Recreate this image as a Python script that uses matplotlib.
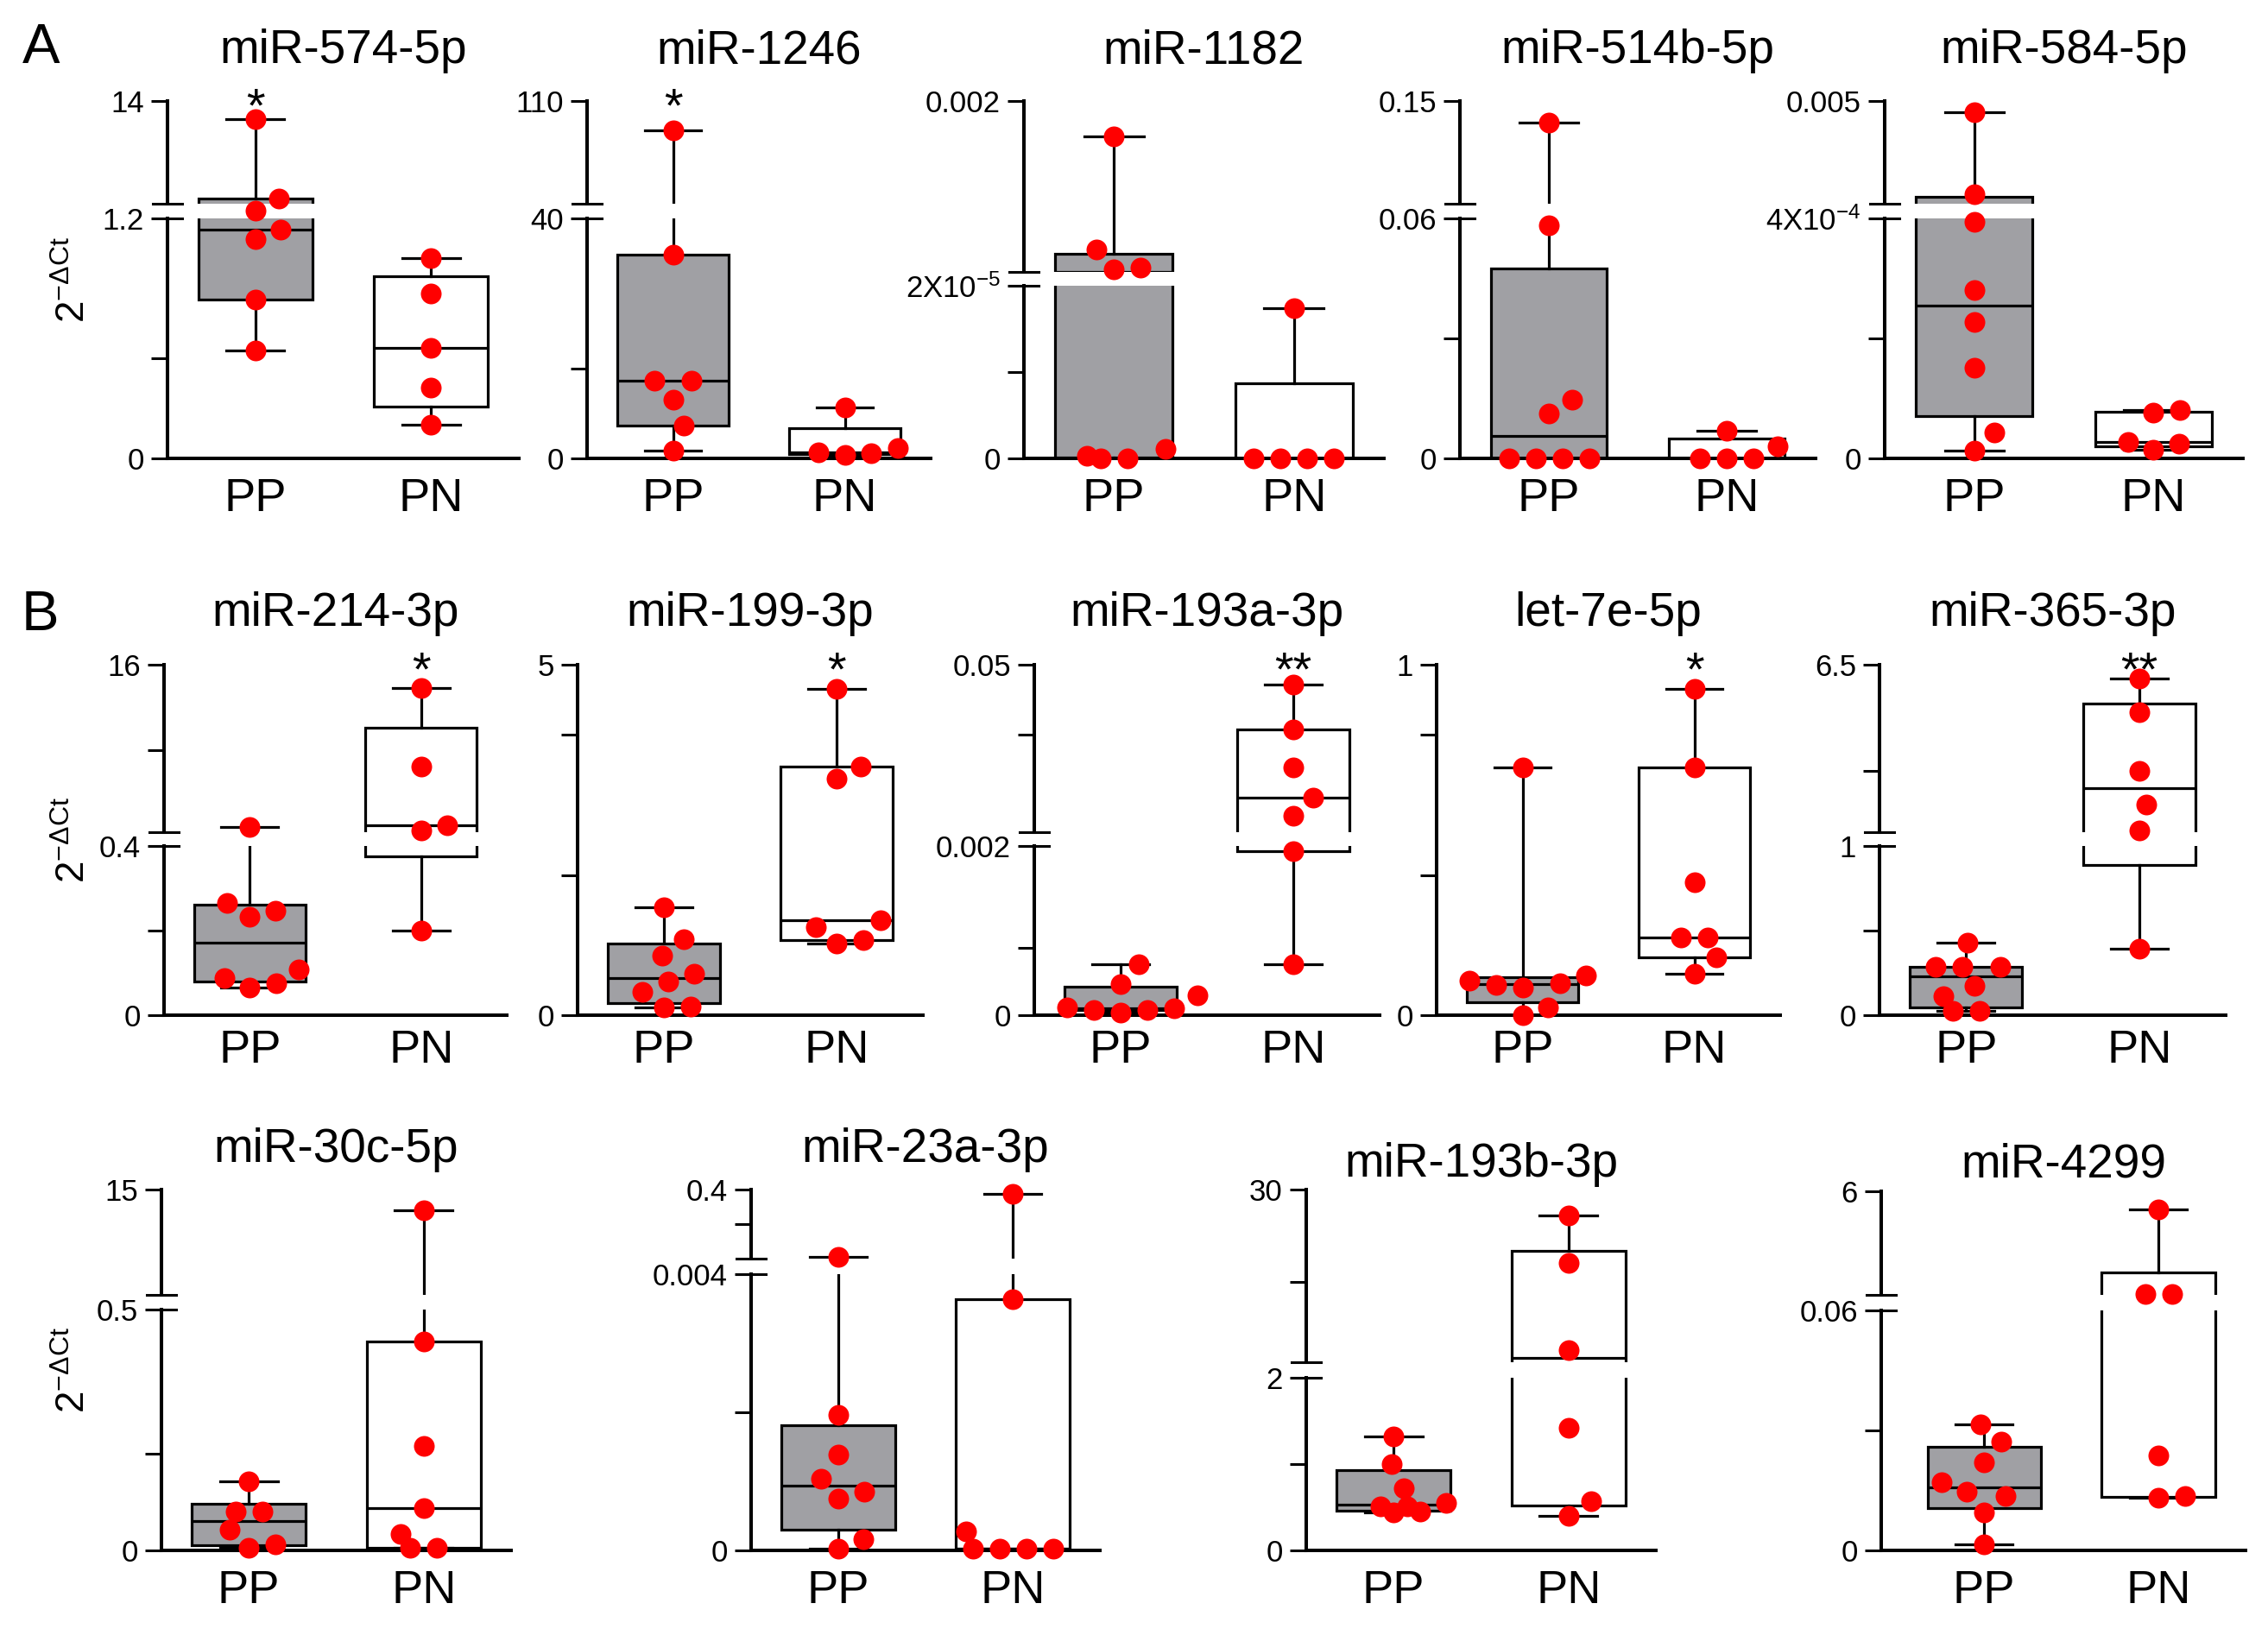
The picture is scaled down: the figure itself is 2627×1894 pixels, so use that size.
"""Box plots of miRNA expression (2^-dCt) in PP and PN groups, with broken y axes."""

import numpy as np
import matplotlib
matplotlib.use("Agg")
import matplotlib.pyplot as plt
from matplotlib.lines import Line2D
from matplotlib.patches import Rectangle

plt.rcParams["font.family"] = ["Liberation Sans", "DejaVu Sans"]
plt.rcParams["mathtext.fontset"] = "custom"
plt.rcParams["mathtext.rm"] = "Liberation Sans"
plt.rcParams["mathtext.it"] = "Liberation Sans:italic"

W, H = 2627, 1894

groups = ["PP", "PN"]

titles = [
    "miR-574-5p", "miR-1246", "miR-1182", "miR-514b-5p", "miR-584-5p",
    "miR-214-3p", "miR-199-3p", "miR-193a-3p", "let-7e-5p", "miR-365-3p",
    "miR-30c-5p", "miR-23a-3p", "miR-193b-3p", "miR-4299",
]

# --- значения 2^-dCt по группам ---
pp_574 = [11.8, 1.95, 1.25, 1.145, 1.098, 0.795, 0.538]
pn_574 = [1.0, 0.824, 0.551, 0.352, 0.167]
pp_1246 = [89.8, 34.0, 13.0, 13.0, 9.8, 5.4, 1.3]
pn_1246 = [8.5, 1.7, 1.02, 0.85, 0.57]
pp_1182 = [0.00159, 0.000283, 6.7e-5, 4.7e-5, 1.1e-6, 3e-7, 0, 0]
pn_1182 = [1.74e-5, 0, 0, 0, 0]
pp_514b = [0.1314, 0.0583, 0.0146, 0.0112, 0, 0, 0, 0]
pn_514b = [0.0068, 0.0030, 0, 0, 0]
pp_584 = [0.0045, 0.000807, 0.000394, 0.000281, 0.000228, 0.000151, 4.3e-5, 1.3e-5]
pn_584 = [8.0e-5, 7.6e-5, 2.7e-5, 2.5e-5, 1.4e-5]

pp_214 = [0.92, 0.265, 0.247, 0.232, 0.109, 0.088, 0.076, 0.065]
pn_214 = [13.85, 6.49, 1.02, 0.55, 0.2]
pp_199 = [1.535, 1.08, 0.855, 0.587, 0.484, 0.329, 0.127, 0.108]
pn_199 = [4.66, 3.545, 3.37, 1.36, 1.254, 1.066, 1.019]
pp_193a = [0.0006, 0.000367, 0.000235, 9e-5, 8e-5, 6e-5, 6e-5, 3e-5]
pn_193a = [0.0442, 0.0314, 0.0206, 0.0119, 0.0067, 0.00194, 0.0006]
pp_let7e = [0.707, 0.113, 0.099, 0.091, 0.085, 0.08, 0.023, 0.0]
pn_let7e = [0.931, 0.707, 0.38, 0.221, 0.221, 0.164, 0.119]
pp_365 = [0.429, 0.287, 0.287, 0.287, 0.175, 0.111, 0.025, 0.025]
pn_365 = [6.05, 4.94, 3.02, 1.9, 1.05, 0.394]

pp_30c = [0.144, 0.08, 0.08, 0.043, 0.012, 0.005]
pn_30c = [12.1, 0.434, 0.2165, 0.088, 0.0335, 0.005, 0.005]
pp_23a = [0.012, 0.00196, 0.00139, 0.00104, 0.000845, 0.000745, 0.00016, 2e-5]
pn_23a = [0.374, 0.00364, 0.00028, 2e-5, 2e-5, 2e-5, 2e-5]
pp_193b = [1.32, 1.0, 0.725, 0.546, 0.506, 0.506, 0.446, 0.438]
pn_193b = [25.8, 18.1, 3.95, 1.42, 0.566, 0.398]
pp_4299 = [0.0315, 0.0272, 0.022, 0.0171, 0.0146, 0.0135, 0.0096, 0.0015]
pn_4299 = [4.95, 0.159, 0.159, 0.0237, 0.0135, 0.0132]

pp_all = [pp_574, pp_1246, pp_1182, pp_514b, pp_584, pp_214, pp_199, pp_193a,
          pp_let7e, pp_365, pp_30c, pp_23a, pp_193b, pp_4299]
pn_all = [pn_574, pn_1246, pn_1182, pn_514b, pn_584, pn_214, pn_199, pn_193a,
          pn_let7e, pn_365, pn_30c, pn_23a, pn_193b, pn_4299]

# разрыв оси: конец нижнего сегмента, начало верхнего сегмента, верх оси
break_values = [1.2, 40, 2e-5, 0.06, 4e-4, 0.4, None, 0.002, None, 1, 0.5, 0.004, 2, 0.06]
upper_start = [1.3, 40, 2e-5, 0.06, 4e-4, 0.4, None, 0.002, None, 1, 0.5, 0.004, 2, 0.1]
top_values = [14, 110, 0.002, 0.15, 0.005, 16, 5, 0.05, 1, 6.5, 15, 0.4, 30, 6]
minor_ticks = [[0.5], [15], [1e-5], [0.03], [2e-4], [0.2, 8], [2, 4], [0.0008, 0.03],
               [0.4, 0.8], [0.5, 3], [0.2], [0.002, 0.2], [1, 15], [0.03]]
tick_texts = [
    ["0", "1.2", "14"], ["0", "40", "110"], ["0", r"2X10$^{\mathregular{-5}}$", "0.002"],
    ["0", "0.06", "0.15"], ["0", r"4X10$^{\mathregular{-4}}$", "0.005"],
    ["0", "0.4", "16"], ["0", "5"], ["0", "0.002", "0.05"], ["0", "1"], ["0", "1", "6.5"],
    ["0", "0.5", "15"], ["0", "0.004", "0.4"], ["0", "2", "30"], ["0", "0.06", "6"],
]
significance = [("PP", "*"), ("PP", "*"), None, None, None,
                ("PN", "*"), ("PN", "*"), ("PN", "**"), ("PN", "*"), ("PN", "**"),
                None, None, None, None]

# Положение панелей в пикселях: x оси, конец оси x, верх, ноль, разрыв (верх, низ), базовая линия заголовка
layout = [
    (194, 601, 117, 531, 236, 253, 73),
    (680, 1078, 117, 531, 236, 253, 73),
    (1186, 1603, 117, 531, 315, 331, 73),
    (1691, 2103, 117, 531, 236, 253, 73),
    (2183, 2598, 117, 531, 236, 253, 73),
    (190, 587, 770, 1176, 964, 980, 725),
    (669, 1069, 770, 1176, None, None, 725),
    (1198, 1598, 770, 1176, 964, 980, 725),
    (1664, 2062, 770, 1176, None, None, 725),
    (2177, 2578, 770, 1176, 964, 980, 725),
    (187, 592, 1378, 1796, 1500, 1517, 1346),
    (870, 1274, 1378, 1796, 1458, 1476, 1346),
    (1513, 1918, 1378, 1796, 1578, 1596, 1363),
    (2179, 2601, 1380, 1796, 1500, 1518, 1363),
]
xlim_left = [-0.5] * 13 + [-0.59]
label_pad = [16] * 5 + [11.5] * 5 + [16] * 4

BOX_GRAY = "#a0a0a4"
DOT_RED = "#ff0000"
LW = 2.3
DOT_PX = 24
SWARM_PX = 31


def broken_scale(b, u, top, f1, f2):
    """Шкала с разрывом: [0, b] -> [0, f1], [b, u] -> разрыв, [u, top] -> [f2, 1]."""
    gap = max(u - b, 1e-300)

    def fwd(v):
        v = np.asarray(v, dtype=float)
        low = v / b * f1
        mid = f1 + np.clip(v - b, 0, None) / gap * (f2 - f1)
        high = f2 + (v - u) / (top - u) * (1 - f2)
        return np.where(v <= b, low, np.where(v < u, mid, high))

    def inv(t):
        t = np.asarray(t, dtype=float)
        low = t / f1 * b
        mid = b + (t - f1) / (f2 - f1) * (u - b)
        high = u + (t - f2) / (1 - f2) * (top - u)
        return np.where(t <= f1, low, np.where(t < f2, mid, high))
    return fwd, inv


def swarm_x(ax, x0, values):
    """Раскладка точек без перекрытия (как в Prism)."""
    values = np.asarray(values, dtype=float)
    pts = ax.transData.transform(np.column_stack([np.full(len(values), x0), values]))
    ys = pts[:, 1]
    dx = np.zeros(len(values))
    placed = []
    for i in np.argsort(ys, kind="stable"):
        y = ys[i]
        cands = [0.0]
        for px, py in placed:
            dy = abs(y - py)
            if dy < SWARM_PX:
                h = np.sqrt(SWARM_PX ** 2 - dy ** 2)
                cands += [px + h, px - h]
        cands.sort(key=lambda c: (abs(c), -c))
        for c in cands:
            if all((c - px) ** 2 + (y - py) ** 2 >= SWARM_PX ** 2 - 1e-6 for px, py in placed):
                dx[i] = c
                break
        placed.append((dx[i], y))
    # одинаковые значения центрируем
    for v in np.unique(values):
        idx = np.where(values == v)[0]
        if len(idx) > 1:
            dx[idx] -= dx[idx].mean()
    unit = ax.transData.transform([(1, 0)])[0, 0] - ax.transData.transform([(0, 0)])[0, 0]
    return x0 + dx / unit


fig = plt.figure(figsize=(W / 100, H / 100), dpi=100)

for k, title in enumerate(titles):
    x_left, x_right, y_top, y_zero, y_bhi, y_blo, t_base = layout[k]
    ax_w = x_right - x_left
    ax_h = y_zero - y_top
    ax = fig.add_axes([x_left / W, 1 - y_zero / H, ax_w / W, ax_h / H])

    b = break_values[k]
    top = top_values[k]
    if b is not None:
        f1 = (y_zero - y_blo) / ax_h
        f2 = (y_zero - y_bhi) / ax_h
        ax.set_yscale("function", functions=broken_scale(b, upper_start[k], top, f1, f2))
        major = [0, b, top]
    else:
        major = [0, top]
    ax.set_ylim(0, top)
    ax.set_xlim(xlim_left[k], 1.5)

    ticks = sorted(major + minor_ticks[k])
    labels = []
    texts = iter(tick_texts[k])
    for t in ticks:
        labels.append(next(texts) if t in major else "")
    ax.set_yticks(ticks, labels)
    ax.yaxis.set_minor_locator(matplotlib.ticker.NullLocator())
    ax.tick_params(axis="y", length=13.5, width=2.2, pad=6, labelsize=25, direction="out")
    ax.set_xticks([0, 1], groups)
    ax.tick_params(axis="x", length=0, pad=label_pad[k], labelsize=39)

    for side in ["top", "right", "left"]:
        ax.spines[side].set_visible(False)
    ax.spines["bottom"].set_linewidth(2.9)

    # ящики: квартили как в Prism (метод Вейбулла), усы min-max
    stats = []
    for vals in (pp_all[k], pn_all[k]):
        q1, med, q3 = np.percentile(vals, [25, 50, 75], method="weibull")
        stats.append(dict(q1=q1, med=med, q3=q3, whislo=min(vals), whishi=max(vals), fliers=[]))
    bp = ax.bxp(stats, positions=[0, 1], widths=0.65, capwidths=0.33, patch_artist=True,
                showfliers=False, manage_ticks=False,
                boxprops=dict(linewidth=LW, edgecolor="black"),
                medianprops=dict(color="black", linewidth=LW),
                whiskerprops=dict(color="black", linewidth=LW),
                capprops=dict(color="black", linewidth=LW))
    bp["boxes"][0].set_facecolor(BOX_GRAY)
    bp["boxes"][1].set_facecolor("white")

    # ось y с разрывом
    if b is not None:
        ax.add_patch(Rectangle((0, f1), 1, f2 - f1, transform=ax.transAxes,
                               facecolor="white", edgecolor="none", zorder=3, clip_on=False))
        segments = [(0, f1), (f2, 1)]
        half = 17 / ax_w
        for f in (f1, f2):
            ax.add_line(Line2D([-half, half], [f, f], transform=ax.transAxes, color="black",
                               linewidth=2.2, clip_on=False, zorder=5))
    else:
        segments = [(0, 1)]
    for y0, y1 in segments:
        ax.add_line(Line2D([0, 0], [y0, y1], transform=ax.transAxes, color="black",
                           linewidth=2.9, clip_on=False, zorder=5, solid_capstyle="projecting"))

    # точки
    for gx, vals in enumerate((pp_all[k], pn_all[k])):
        xs = swarm_x(ax, gx, vals)
        ax.plot(xs, vals, "o", color=DOT_RED, markersize=DOT_PX * 0.72, markeredgewidth=0,
                zorder=4, clip_on=False)

    if significance[k] is not None:
        grp, mark = significance[k]
        ax.annotate(mark, xy=(groups.index(grp), 1), xycoords=("data", "axes fraction"),
                    xytext=(0, -17), textcoords="offset points", ha="center", va="baseline",
                    fontsize=40)

    fig.text((x_left + x_right) / 2 / W, 1 - t_base / H, title, ha="center", va="baseline",
             fontsize=39.5)

    if k in (0, 5, 10):
        ax.set_ylabel(r"2$^{\mathregular{-ΔCt}}$", fontsize=33, va="center")
        ax.yaxis.set_label_coords((86 - x_left) / ax_w, 0.5)

fig.text(48 / W, 1 - 73 / H, "A", ha="center", va="baseline", fontsize=47)
fig.text(46 / W, 1 - 730 / H, "B", ha="center", va="baseline", fontsize=47)

plt.savefig("out.png", dpi=100)
